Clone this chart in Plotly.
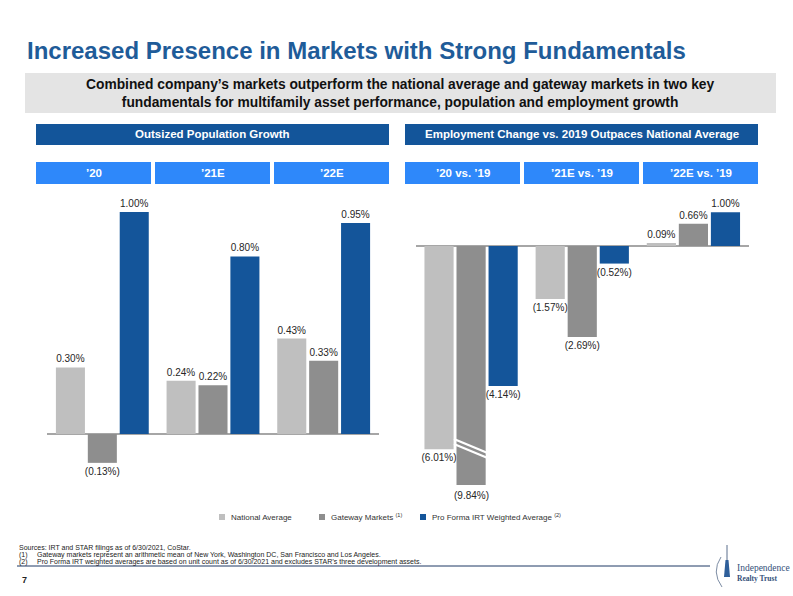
import plotly.graph_objects as go

# ---------------- data ----------------
pop_categories = ["\u201920", "\u201921E", "\u201922E"]
pop_national = [0.30, 0.24, 0.43]
pop_gateway = [-0.13, 0.22, 0.33]
pop_irt = [1.00, 0.80, 0.95]

emp_categories = ["\u201920 vs. \u201919", "\u201921E vs. \u201919", "\u201922E vs. \u201919"]
emp_national = [-6.01, -1.57, 0.09]
emp_gateway = [-9.84, -2.69, 0.66]
emp_irt = [-4.14, -0.52, 1.00]

series_names = ["National Average", "Gateway Markets", "Pro Forma IRT Weighted Average"]
series_notes = ["", "(1)", "(2)"]

# ---------------- style ----------------
W, H = 793, 596
COLORS = ["#BFBFBF", "#8E8E8E", "#14559A"]
TITLE_BLUE = "#1F5C99"
HEAD_BLUE = "#13559A"
SUB_BLUE = "#2E88FA"
FONT = "Arial, Liberation Sans, sans-serif"


def px(x):
    return x / W


def py(y):
    return 1 - y / H


def fmt(v):
    return f"({abs(v):.2f}%)" if v < 0 else f"{v:.2f}%"


def note(x, y, text, size, color="#222222", xa="left", ya="middle", family=FONT, align="left"):
    return dict(x=px(x), y=py(y), xref="paper", yref="paper", xanchor=xa, yanchor=ya, text=text,
                showarrow=False, align=align, font=dict(family=family, size=size, color=color))


fig = go.Figure()

# left chart geometry (pixels)
L_x0, L_x1 = 47, 379
L_top, L_bot, L_base, L_scale = 190, 475, 434, 222.0
# right chart geometry
R_x0, R_x1 = 415.5, 749
R_top, R_bot, R_base, R_scale = 195, 485, 246, 33.8

left_series = [pop_national, pop_gateway, pop_irt]
right_series = [emp_national, emp_gateway, emp_irt]
r_ymin = -(R_bot - R_base) / R_scale
r_ymax = (R_base - R_top) / R_scale

for i, vals in enumerate(left_series):
    fig.add_trace(go.Bar(
        x=pop_categories, y=vals, name=series_names[i], marker_color=COLORS[i],
        marker_line_width=0, text=[fmt(v) for v in vals], textposition="outside",
        textfont=dict(family=FONT, size=10, color="#262626"), constraintext="none",
        cliponaxis=False, xaxis="x", yaxis="y", showlegend=False))

clipped = []
for i, vals in enumerate(right_series):
    texts = []
    for j, v in enumerate(vals):
        if v < r_ymin:
            texts.append("")
            clipped.append((i, j, v))
        else:
            texts.append(fmt(v))
    fig.add_trace(go.Bar(
        x=emp_categories, y=vals, name=series_names[i], marker_color=COLORS[i],
        marker_line_width=0, text=texts, textposition="outside",
        textfont=dict(family=FONT, size=10, color="#262626"), constraintext="none",
        cliponaxis=False, xaxis="x2", yaxis="y2", showlegend=False))

shapes = []
annotations = []

# broken bar handling (bar exceeds axis) - label below the axis and break marks
n_series = 3
bargap, bargroupgap = 0.135, 0.09
slot = (1 - bargap) / n_series
for (i, j, v) in clipped:
    xc = j + (i - (n_series - 1) / 2) * slot
    half = slot / 2 + 0.01
    annotations.append(dict(x=xc, y=r_ymin, xref="x2", yref="y2", text=fmt(v), showarrow=False,
                            xanchor="center", yanchor="top", yshift=-3,
                            font=dict(family=FONT, size=10, color="#262626")))
    for k in range(2):
        y_hi = r_ymin + 1.36 - k * 0.15
        shapes.append(dict(type="line", xref="x2", yref="y2", x0=xc - half, x1=xc + half,
                           y0=y_hi, y1=y_hi - 0.42, line=dict(color="white", width=2.2), layer="above"))

# title
annotations.append(note(25, 50, "<b>Increased Presence in Markets with Strong Fundamentals</b>", 24, TITLE_BLUE))
# subtitle box
shapes.append(dict(type="rect", xref="paper", yref="paper", x0=px(25), x1=px(776), y0=py(113), y1=py(73),
                   fillcolor="#E4E4E4", line_width=0, layer="below"))
annotations.append(note(400, 93,
                        "<b>Combined company\u2019s markets outperform the national average and gateway markets in two key<br>"
                        "fundamentals for multifamily asset performance, population and employment growth</b>",
                        13.8, "#111111", xa="center", align="center"))

# panel headers
for (x0, x1, label, cats) in [(36, 389, "Outsized Population Growth", pop_categories),
                              (405, 758, "Employment Change vs. 2019 Outpaces National Average", emp_categories)]:
    shapes.append(dict(type="rect", xref="paper", yref="paper", x0=px(x0), x1=px(x1), y0=py(145), y1=py(124),
                       fillcolor=HEAD_BLUE, line_width=0))
    annotations.append(note((x0 + x1) / 2, 134.5, f"<b>{label}</b>", 11.5, "white", xa="center"))
    w = (x1 - x0 - 8) / 3
    for k, c in enumerate(cats):
        a = x0 + k * (w + 4)
        shapes.append(dict(type="rect", xref="paper", yref="paper", x0=px(a), x1=px(a + w), y0=py(184), y1=py(162),
                           fillcolor=SUB_BLUE, line_width=0))
        annotations.append(note(a + w / 2, 173, f"<b>{c}</b>", 11.5, "white", xa="center"))

# legend
leg_x = [219, 319, 420]
for i, name in enumerate(series_names):
    shapes.append(dict(type="rect", xref="paper", yref="paper", x0=px(leg_x[i]), x1=px(leg_x[i] + 6),
                       y0=py(520), y1=py(514), fillcolor=COLORS[i], line_width=0))
    sup = f" <sup>{series_notes[i]}</sup>" if series_notes[i] else ""
    annotations.append(note(leg_x[i] + 10, 517, name + sup, 8, "#333333"))

# footnotes
foot = [(17, 548, "Sources: IRT and STAR filings as of 6/30/2021, CoStar."),
        (17, 555, "(1)"),
        (35, 555, "Gateway markets represent an arithmetic mean of New York, Washington DC, San Francisco and Los Angeles."),
        (17, 562, "(2)"),
        (35, 562, "Pro Forma IRT weighted averages are based on unit count as of 6/30/2021 and excludes STAR\u2019s three development assets.")]
for (x, y, t) in foot:
    annotations.append(note(x, y, t, 7))
shapes.append(dict(type="line", xref="paper", yref="paper", x0=px(17), x1=px(710), y0=py(566), y1=py(566),
                   line=dict(color="#1F3864", width=1)))
annotations.append(note(20, 580, "<b>7</b>", 9))

# logo
shapes.append(dict(type="line", xref="paper", yref="paper", x0=px(727), x1=px(727), y0=py(545), y1=py(560),
                   line=dict(color="#5A6E8C", width=1)))
shapes.append(dict(type="path", xref="paper", yref="paper",
                   path=f"M {px(724)} {py(577)} L {px(725.5)} {py(560)} L {px(728.5)} {py(560)} L {px(730)} {py(577)} Z",
                   fillcolor="#2F5F9A", line_width=0))
shapes.append(dict(type="path", xref="paper", yref="paper",
                   path=f"M {px(721)} {py(557)} Q {px(711)} {py(572)} {px(722)} {py(587)}",
                   line=dict(color="#5A6E8C", width=0.8)))
SERIF = "Liberation Serif, DejaVu Serif, serif"
annotations.append(note(735, 568, "Independence", 9.5, "#34507A", family=SERIF))
annotations.append(note(735, 578, "<b>Realty Trust</b>", 7.5, "#34507A", family=SERIF))

fig.update_layout(
    width=W, height=H, margin=dict(l=0, r=0, t=0, b=0),
    paper_bgcolor="white", plot_bgcolor="white",
    barmode="group", bargap=bargap, bargroupgap=bargroupgap,
    xaxis=dict(domain=[px(L_x0), px(L_x1)], showticklabels=False, showgrid=False, zeroline=False,
               showline=False, ticks=""),
    yaxis=dict(domain=[py(L_bot), py(L_top)], range=[-(L_bot - L_base) / L_scale, (L_base - L_top) / L_scale],
               showticklabels=False, showgrid=False, zeroline=True, zerolinecolor="#A6A6A6", zerolinewidth=1.5),
    xaxis2=dict(domain=[px(R_x0), px(R_x1)], anchor="y2", showticklabels=False, showgrid=False, zeroline=False,
                showline=False, ticks=""),
    yaxis2=dict(domain=[py(R_bot), py(R_top)], anchor="x2", range=[r_ymin, r_ymax],
                showticklabels=False, showgrid=False, zeroline=True, zerolinecolor="#A6A6A6", zerolinewidth=1.5),
    shapes=shapes, annotations=annotations, showlegend=False,
)

fig.write_html("out.html", config={"displayModeBar": False},
               post_script="document.body.style.margin='0';document.body.style.overflow='hidden';")
